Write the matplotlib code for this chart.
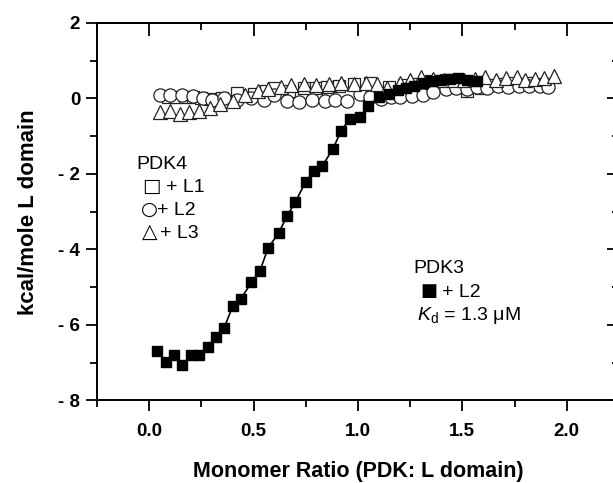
import matplotlib
matplotlib.use("Agg")
import matplotlib.pyplot as plt
from matplotlib.ticker import MultipleLocator, FuncFormatter

plt.rcParams['font.family'] = ['Liberation Sans', 'DejaVu Sans']
plt.rcParams['mathtext.fontset'] = 'custom'
plt.rcParams['mathtext.rm'] = 'Liberation Sans'
plt.rcParams['mathtext.it'] = 'Liberation Sans:italic'

# ── Data ─────────────────────────────────────────────────────────────────────
# PDK3 + L2 (filled squares with line)
pdk3_l2_x = [0.04, 0.08, 0.12, 0.16, 0.20, 0.24, 0.28, 0.32, 0.36, 0.40,
             0.44, 0.49, 0.53, 0.57, 0.62, 0.66, 0.70, 0.75, 0.79, 0.83,
             0.88, 0.92, 0.96, 1.01, 1.05, 1.10, 1.15, 1.19, 1.23, 1.27,
             1.31, 1.35, 1.40, 1.44, 1.48, 1.52, 1.57]
pdk3_l2_y = [-6.70, -6.98, -6.79, -7.07, -6.79, -6.81, -6.59, -6.32, -6.07, -5.51,
             -5.31, -4.87, -4.58, -3.96, -3.57, -3.12, -2.75, -2.20, -1.93, -1.78,
             -1.34, -0.85, -0.55, -0.48, -0.19, 0.03, 0.12, 0.22, 0.28, 0.33,
             0.40, 0.45, 0.50, 0.52, 0.53, 0.50, 0.45]

# PDK4 + L1 (open squares)
pdk4_l1_x = [0.09, 0.13, 0.17, 0.21, 0.25, 0.29, 0.35, 0.42, 0.50, 0.56,
             0.60, 0.67, 0.74, 0.80, 0.85, 0.91, 0.98, 1.06, 1.15, 1.22,
             1.29, 1.35, 1.42, 1.47, 1.52, 1.59, 1.65, 1.70, 1.74, 1.78,
             1.82, 1.86, 1.90]
pdk4_l1_y = [0.05, 0.05, 0.05, 0.05, 0.02, -0.02, 0.00, 0.14, 0.12, 0.20,
             0.27, 0.20, 0.29, 0.29, 0.30, 0.34, 0.38, 0.41, 0.30, 0.35,
             0.38, 0.45, 0.49, 0.45, 0.20, 0.29, 0.35, 0.38, 0.42, 0.38,
             0.40, 0.38, 0.38]

# PDK4 + L2 (open circles)
pdk4_l2_x = [0.05, 0.10, 0.16, 0.21, 0.26, 0.30, 0.36, 0.42, 0.49, 0.55,
             0.60, 0.66, 0.72, 0.78, 0.84, 0.89, 0.95, 1.01, 1.06, 1.11,
             1.16, 1.20, 1.26, 1.31, 1.36, 1.42, 1.47, 1.52, 1.57, 1.62,
             1.67, 1.72, 1.77, 1.82, 1.87, 1.91]
pdk4_l2_y = [0.08, 0.10, 0.08, 0.06, 0.00, -0.04, 0.02, -0.05, 0.00, -0.05,
             0.10, -0.08, -0.10, -0.05, -0.06, -0.04, -0.08, 0.12, 0.05, -0.02,
             0.03, 0.03, 0.07, 0.10, 0.16, 0.25, 0.28, 0.25, 0.30, 0.29,
             0.34, 0.30, 0.34, 0.34, 0.33, 0.31]

# PDK4 + L3 (open triangles)
pdk4_l3_x = [0.05, 0.10, 0.15, 0.19, 0.24, 0.29, 0.34, 0.40, 0.46, 0.52,
             0.57, 0.63, 0.68, 0.74, 0.80, 0.86, 0.92, 0.98, 1.04, 1.09,
             1.14, 1.20, 1.25, 1.30, 1.36, 1.41, 1.46, 1.51, 1.56, 1.61,
             1.66, 1.71, 1.76, 1.80, 1.85, 1.89, 1.94]
pdk4_l3_y = [-0.37, -0.33, -0.41, -0.37, -0.33, -0.24, -0.15, -0.06, 0.10, 0.20,
             0.25, 0.30, 0.36, 0.38, 0.36, 0.38, 0.40, 0.38, 0.40, 0.38,
             0.29, 0.42, 0.48, 0.56, 0.52, 0.50, 0.48, 0.50, 0.51, 0.56,
             0.50, 0.54, 0.56, 0.50, 0.52, 0.55, 0.60]

# ── Figure ───────────────────────────────────────────────────────────────────
fig = plt.figure(figsize=(6.13, 4.83), dpi=100)
ax = fig.add_axes([0.158, 0.171, 1.0098 - 0.158, 0.9524 - 0.171])

open_kw = dict(linestyle="none", markerfacecolor="white",
               markeredgecolor="#222222", markeredgewidth=0.9)
ax.plot(pdk4_l1_x, pdk4_l1_y, marker="s", markersize=8.5, **open_kw)
ax.plot(pdk4_l2_x, pdk4_l2_y, marker="o", markersize=9.5, **open_kw)
ax.plot(pdk4_l3_x, pdk4_l3_y, marker="^", markersize=9.5, **open_kw)
ax.plot(pdk3_l2_x, pdk3_l2_y, color="black", linewidth=1.2, marker="s",
        markersize=7.5, markerfacecolor="black", markeredgecolor="black")

ax.set_xlim(-0.25, 2.25)
ax.set_ylim(-8, 2)

ax.xaxis.set_major_locator(MultipleLocator(0.5))
ax.xaxis.set_minor_locator(MultipleLocator(0.25))
ax.yaxis.set_major_locator(MultipleLocator(2))
ax.yaxis.set_minor_locator(MultipleLocator(1))
ax.xaxis.set_major_formatter(FuncFormatter(lambda v, _: f"{v:.1f}"))
ax.yaxis.set_major_formatter(
    FuncFormatter(lambda v, _: f"- {abs(v):.0f}" if v < 0 else f"{v:.0f}"))

for s in ax.spines.values():
    s.set_linewidth(1.4)

ax.tick_params(which="major", direction="out", length=8, width=1.3, pad=4)
ax.tick_params(which="minor", direction="out", length=5, width=1.3)
ax.tick_params(axis="x", which="major", pad=8)
for lab in ax.get_xticklabels() + ax.get_yticklabels():
    lab.set_fontweight("bold")
    lab.set_fontsize(13.5)

# inward ticks on top and right, no labels
top = ax.secondary_xaxis("top")
top.xaxis.set_major_locator(MultipleLocator(0.5))
top.xaxis.set_minor_locator(MultipleLocator(0.25))
top.tick_params(which="major", direction="in", length=9, width=1.3, labeltop=False)
top.tick_params(which="minor", direction="in", length=5, width=1.3)
top.spines["top"].set_linewidth(1.4)

right = ax.secondary_yaxis("right")
right.yaxis.set_major_locator(MultipleLocator(2))
right.yaxis.set_minor_locator(MultipleLocator(1))
right.tick_params(which="major", direction="in", length=9, width=1.3, labelright=False)
right.tick_params(which="minor", direction="in", length=5, width=1.3)

ax.set_xlabel("Monomer Ratio (PDK: L domain)", fontsize=15.5, fontweight="bold",
              labelpad=15.5)
ax.set_ylabel("kcal/mole L domain", fontsize=16, fontweight="bold", labelpad=14)

# annotations: symbols in DejaVu Sans, words in Liberation Sans
sym = dict(family="DejaVu Sans", va="center", ha="left")
txt = dict(fontsize=14, va="center", ha="left")
ax.text(-0.06, -1.74, "PDK4", **txt)
ax.text(-0.035, -2.33, "□", fontsize=14, **sym)
ax.text(0.080, -2.35, "+ L1", **txt)
ax.text(-0.040, -2.95, "○", fontsize=14, **sym)
ax.text(0.036, -2.97, "+ L2", **txt)
ax.text(-0.035, -3.56, "△", fontsize=14.5, **sym)
ax.text(0.053, -3.58, "+ L3", **txt)

ax.text(1.265, -4.51, "PDK3", **txt)
ax.text(1.297, -5.11, "■", fontsize=13, **sym)
ax.text(1.401, -5.13, "+ L2", **txt)
ax.text(1.285, -5.75, r"$K_{\mathrm{d}}$ = 1.3 μM", **txt)

fig.savefig("out.png", dpi=100)
